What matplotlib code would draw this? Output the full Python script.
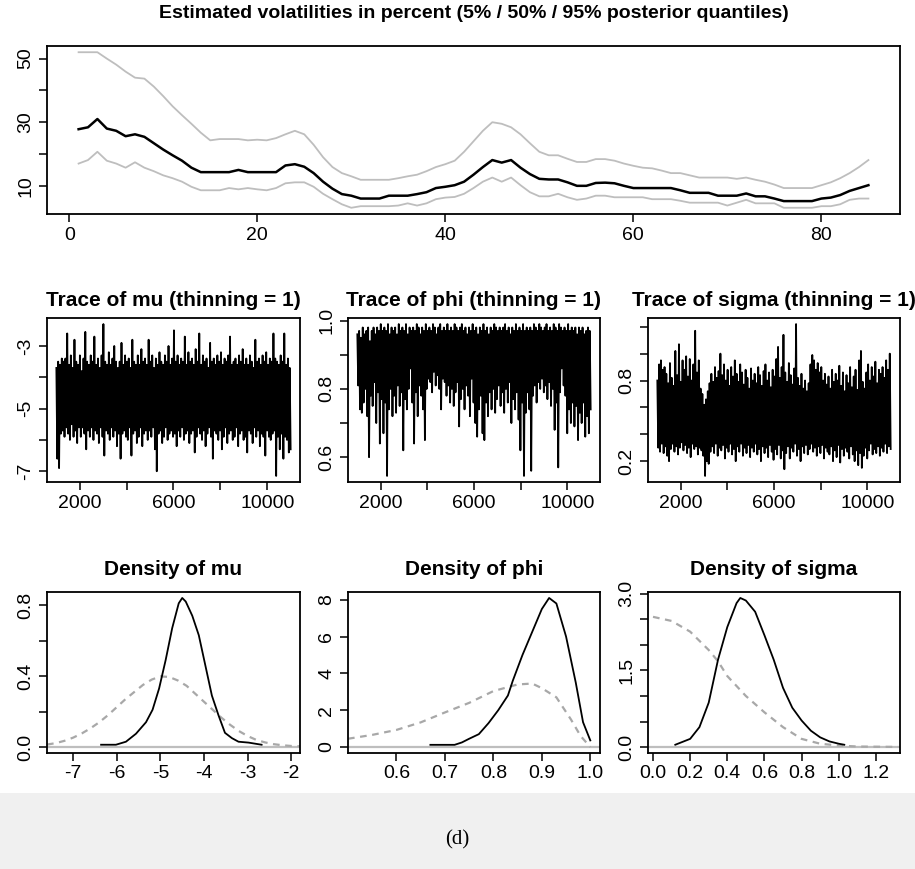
import numpy as np
import matplotlib
matplotlib.use('Agg')
import matplotlib.pyplot as plt
from matplotlib.patches import Rectangle

plt.rcParams['font.family'] = ['Liberation Sans Narrow', 'Liberation Sans', 'DejaVu Sans']

# --- volatility quantiles (percent), t = 1..85
vol_q05 = [17, 18.1, 20.7, 17.9, 17, 15.7, 17.4, 15.7, 14.6, 13.3,
           12.4, 11.3, 9.7, 8.6, 8.6, 8.6, 9.3, 8.9, 9.3, 8.9,
           8.6, 9.3, 10.8, 11.1, 11.1, 9.7, 7.5, 5.8, 4.2, 3.1,
           3.6, 3.6, 3.6, 3.6, 3.8, 4.5, 3.8, 4.5, 5.8, 6.3,
           6.5, 7.5, 9.3, 11.3, 12.6, 11.3, 12.6, 10.2, 8.0, 6.7,
           6.7, 7.5, 6.4, 5.6, 6.0, 6.9, 6.9, 6.4, 6.4, 6.4,
           6.4, 5.8, 5.8, 5.8, 5.3, 4.7, 4.7, 4.7, 4.7, 3.8,
           4.7, 5.6, 4.5, 4.5, 4.5, 3.1, 3.1, 3.1, 3.1, 3.6,
           3.6, 4.2, 5.6, 6.0, 6.0]
vol_q50 = [27.8, 28.4, 31.0, 28.0, 27.3, 25.6, 26.2, 25.4, 23.4, 21.4,
           19.6, 17.9, 15.7, 14.3, 14.3, 14.3, 14.3, 15.0, 14.3, 14.3,
           14.3, 14.3, 16.4, 16.8, 16.0, 14.0, 11.3, 9.1, 7.4, 6.9,
           6.0, 6.0, 6.0, 6.9, 6.9, 6.9, 7.4, 8.0, 9.3, 9.7,
           10.2, 11.3, 13.5, 15.9, 18.1, 17.3, 18.1, 15.7, 13.7, 12.2,
           12.0, 12.0, 11.1, 10.0, 10.0, 10.9, 11.0, 10.8, 10.0, 9.3,
           9.3, 9.3, 9.3, 9.3, 8.6, 7.8, 7.8, 7.8, 6.9, 6.9,
           6.9, 7.6, 6.7, 6.7, 6.0, 5.2, 5.2, 5.2, 5.2, 6.0,
           6.3, 7.1, 8.4, 9.3, 10.2]
vol_q95 = [52, 52, 52, 50, 48.1, 45.9, 44, 43.7, 41.2, 38.2,
           35, 32.2, 29.5, 26.7, 24.3, 24.7, 24.7, 24.7, 24.3, 24.5,
           24.3, 25, 26.2, 27.3, 26.2, 22.9, 19, 15.9, 14, 13,
           11.9, 11.9, 11.9, 11.9, 12.4, 13, 13.5, 14.6, 15.9, 16.8,
           17.9, 20.7, 24, 27.3, 30, 29.5, 28.4, 26.2, 23.4, 20.7,
           19.6, 19.6, 18.5, 17.5, 17.5, 18.4, 18.4, 17.9, 17, 16.3,
           15.7, 15.5, 14.8, 14, 14, 13.3, 12.6, 12.6, 12.6, 12.6,
           12.2, 12.6, 11.9, 11.3, 10.4, 9.3, 9.3, 9.3, 9.3, 10.2,
           11.1, 12.4, 14, 15.9, 18.1]

# --- MCMC traces (draws 1001..11000)
draw_first, draw_last = 1001, 11000
mu_trace = [
    -3.7, -6.6, -3.5, -6.9, -3.6, -5.8, -3.4, -5.7, -3.5, -5.9,
    -3.4, -5.6, -2.6, -5.8, -3.6, -6.0, -3.3, -5.5, -3.7, -5.9,
    -2.8, -5.7, -3.5, -6.1, -3.6, -5.6, -3.3, -5.9, -3.8, -5.6,
    -3.4, -5.8, -2.55, -6.3, -3.5, -5.7, -3.6, -5.9, -3.3, -5.6,
    -3.5, -6.0, -2.7, -5.7, -3.6, -5.8, -3.4, -6.1, -3.7, -5.6,
    -3.3, -5.9, -2.3, -6.5, -3.5, -5.7, -3.6, -5.8, -3.2, -6.0,
    -3.6, -5.6, -3.4, -5.9, -3.0, -5.7, -3.5, -6.2, -3.7, -5.8,
    -3.5, -6.6, -2.9, -5.8, -3.6, -5.7, -3.3, -5.9, -3.5, -6.0,
    -3.4, -5.6, -3.7, -6.5, -2.8, -5.8, -3.5, -5.7, -3.6, -6.1,
    -3.3, -5.9, -3.6, -5.6, -3.1, -6.2, -3.5, -5.8, -3.4, -5.7,
    -3.6, -6.0, -2.8, -5.7, -3.5, -5.9, -3.3, -5.6, -3.7, -6.3,
    -3.4, -7.0, -3.6, -5.8, -3.2, -5.7, -3.5, -6.1, -3.6, -5.9,
    -3.3, -5.6, -3.5, -6.0, -3.0, -5.8, -3.6, -5.7, -3.4, -5.9,
    -2.5, -5.8, -3.5, -6.2, -3.3, -5.7, -3.6, -5.9, -3.4, -5.6,
    -3.5, -6.0, -2.7, -5.8, -3.6, -5.7, -3.2, -6.1, -3.5, -5.8,
    -3.4, -5.7, -3.6, -6.4, -3.1, -5.9, -3.5, -5.6, -2.6, -5.8,
    -3.6, -6.0, -3.3, -5.7, -3.5, -6.2, -3.4, -5.8, -3.7, -5.6,
    -2.9, -5.9, -3.5, -6.6, -3.4, -5.7, -3.6, -5.8, -3.3, -6.0,
    -3.5, -5.7, -3.2, -6.3, -3.6, -5.9, -3.4, -5.6, -3.5, -6.1,
    -3.3, -5.8, -2.7, -5.7, -3.6, -6.0, -3.5, -5.9, -3.4, -5.6,
    -3.6, -6.2, -3.3, -5.8, -3.5, -5.7, -3.1, -6.0, -3.6, -5.9,
    -3.4, -6.4, -3.6, -5.7, -3.3, -5.8, -3.5, -6.1, -3.7, -5.6,
    -2.8, -5.9, -3.5, -5.7, -3.4, -6.2, -3.6, -5.8, -3.3, -5.9,
    -3.5, -6.5, -3.2, -5.7, -3.6, -5.9, -3.4, -6.0, -3.5, -5.8,
    -2.6, -5.7, -3.4, -7.15, -3.5, -5.9, -3.6, -6.3, -3.3, -5.8,
    -3.5, -6.6, -2.6, -5.9, -3.6, -6.0, -3.4, -6.4, -3.7, -6.3]
phi_trace = [
    0.96, 0.81, 0.97, 0.74, 0.95, 0.73, 0.98, 0.76, 0.96, 0.80,
    0.97, 0.72, 0.98, 0.60, 0.94, 0.78, 0.97, 0.75, 0.98, 0.82,
    0.96, 0.70, 0.98, 0.79, 0.97, 0.64, 0.99, 0.77, 0.97, 0.67,
    0.98, 0.76, 0.97, 0.545, 0.99, 0.74, 0.96, 0.80, 0.98, 0.72,
    0.97, 0.78, 0.98, 0.73, 0.96, 0.81, 0.99, 0.75, 0.97, 0.79,
    0.98, 0.62, 0.97, 0.77, 0.99, 0.74, 0.96, 0.80, 0.98, 0.86,
    0.97, 0.76, 0.98, 0.64, 0.97, 0.79, 0.99, 0.72, 0.98, 0.81,
    0.96, 0.78, 0.98, 0.74, 0.97, 0.65, 0.99, 0.80, 0.97, 0.83,
    0.98, 0.82, 0.97, 0.79, 0.99, 0.85, 0.98, 0.81, 0.96, 0.84,
    0.98, 0.80, 0.99, 0.74, 0.97, 0.83, 0.98, 0.82, 0.97, 0.78,
    0.99, 0.81, 0.97, 0.76, 0.98, 0.80, 0.97, 0.75, 0.99, 0.79,
    0.98, 0.82, 0.97, 0.69, 0.98, 0.77, 0.99, 0.80, 0.97, 0.74,
    0.98, 0.81, 0.96, 0.78, 0.98, 0.72, 0.97, 0.83, 0.99, 0.76,
    0.97, 0.70, 0.98, 0.66, 0.96, 0.74, 0.98, 0.78, 0.97, 0.67,
    0.99, 0.65, 0.97, 0.76, 0.98, 0.72, 0.96, 0.79, 0.98, 0.74,
    0.97, 0.80, 0.99, 0.73, 0.98, 0.77, 0.97, 0.81, 0.98, 0.75,
    0.97, 0.79, 0.98, 0.73, 0.99, 0.80, 0.97, 0.76, 0.98, 0.82,
    0.96, 0.70, 0.98, 0.77, 0.97, 0.74, 0.99, 0.79, 0.97, 0.71,
    0.98, 0.62, 0.97, 0.76, 0.99, 0.545, 0.97, 0.73, 0.98, 0.79,
    0.97, 0.74, 0.98, 0.56, 0.97, 0.78, 0.99, 0.81, 0.98, 0.76,
    0.97, 0.82, 0.99, 0.80, 0.98, 0.83, 0.97, 0.79, 0.98, 0.81,
    0.99, 0.77, 0.97, 0.82, 0.98, 0.75, 0.97, 0.80, 0.99, 0.68,
    0.98, 0.76, 0.97, 0.57, 0.99, 0.79, 0.98, 0.86, 0.97, 0.81,
    0.98, 0.78, 0.97, 0.67, 0.99, 0.74, 0.97, 0.70, 0.98, 0.76,
    0.97, 0.69, 0.98, 0.75, 0.96, 0.65, 0.98, 0.73, 0.97, 0.70,
    0.98, 0.76, 0.96, 0.66, 0.97, 0.72, 0.98, 0.67, 0.97, 0.74]
sigma_trace = [
    0.80, 0.30, 0.92, 0.27, 0.95, 0.33, 0.88, 0.26, 0.90, 0.31,
    0.85, 0.24, 0.78, 0.20, 0.93, 0.29, 0.82, 0.33, 0.76, 0.27,
    1.02, 0.31, 0.84, 0.25, 1.07, 0.30, 0.79, 0.34, 0.95, 0.28,
    0.88, 0.32, 0.98, 0.26, 0.83, 0.30, 0.96, 0.23, 0.80, 0.33,
    0.92, 0.29, 1.17, 0.31, 0.86, 0.25, 0.95, 0.30, 0.74, 0.28,
    0.70, 0.24, 0.62, 0.09, 0.66, 0.20, 0.72, 0.18, 0.78, 0.27,
    0.85, 0.31, 0.79, 0.26, 0.90, 0.33, 0.82, 0.24, 0.87, 0.30,
    1.00, 0.28, 0.84, 0.32, 0.92, 0.22, 0.80, 0.30, 0.88, 0.27,
    0.76, 0.33, 0.90, 0.25, 0.83, 0.29, 0.95, 0.20, 0.85, 0.31,
    0.79, 0.27, 0.92, 0.33, 0.86, 0.24, 0.77, 0.30, 0.88, 0.26,
    0.82, 0.32, 0.74, 0.23, 0.89, 0.30, 0.80, 0.27, 0.85, 0.33,
    0.78, 0.25, 0.90, 0.29, 0.84, 0.20, 0.76, 0.31, 0.87, 0.26,
    0.92, 0.30, 0.80, 0.23, 0.86, 0.32, 0.75, 0.27, 0.88, 0.21,
    0.83, 0.29, 0.96, 0.25, 1.05, 0.32, 0.82, 0.22, 0.90, 0.28,
    1.14, 0.14, 0.86, 0.26, 0.79, 0.31, 0.93, 0.22, 0.84, 0.30,
    0.77, 0.27, 0.89, 0.33, 1.22, 0.24, 0.82, 0.29, 0.76, 0.20,
    0.85, 0.31, 0.74, 0.26, 0.80, 0.32, 0.72, 0.25, 0.78, 0.29,
    0.92, 0.33, 0.99, 0.27, 0.95, 0.30, 0.88, 0.24, 0.93, 0.31,
    0.86, 0.26, 0.90, 0.32, 0.80, 0.22, 0.85, 0.30, 0.77, 0.27,
    0.83, 0.25, 0.74, 0.31, 0.88, 0.20, 0.79, 0.28, 0.85, 0.23,
    0.80, 0.32, 0.91, 0.19, 0.76, 0.29, 0.86, 0.24, 0.72, 0.30,
    0.84, 0.27, 0.78, 0.22, 0.90, 0.31, 0.75, 0.25, 0.83, 0.20,
    0.88, 0.28, 0.73, 0.17, 0.95, 0.26, 1.02, 0.15, 0.79, 0.24,
    0.74, 0.30, 0.86, 0.22, 0.92, 0.28, 0.80, 0.33, 0.90, 0.25,
    0.83, 0.29, 0.94, 0.26, 0.78, 0.31, 0.88, 0.24, 0.85, 0.30,
    0.90, 0.27, 0.82, 0.33, 0.95, 0.26, 0.88, 0.31, 1.00, 0.29]

# --- posterior (solid) and prior (dashed) densities
mu_post_x = [-6.36, -6.02, -5.79, -5.56, -5.33, -5.18, -5.03, -4.88, -4.73, -4.58, -4.50,
             -4.42, -4.27, -4.12, -3.97, -3.82, -3.67, -3.52, -3.36, -3.21, -2.98, -2.68]
mu_post_y = [0.013, 0.013, 0.03, 0.075, 0.14, 0.21, 0.33, 0.49, 0.67, 0.81, 0.84,
             0.82, 0.74, 0.63, 0.46, 0.29, 0.18, 0.08, 0.05, 0.03, 0.025, 0.013]
mu_prior_x = [-7.6, -7.4, -7.2, -7.0, -6.8, -6.6, -6.4, -6.2, -6.0, -5.8, -5.6, -5.4, -5.2, -5.0, -4.8,
              -4.6, -4.4, -4.2, -4.0, -3.8, -3.6, -3.4, -3.2, -3.0, -2.8, -2.6, -2.4, -2.2, -2.0, -1.8]
mu_prior_y = [0.014, 0.022, 0.035, 0.053, 0.077, 0.106, 0.140, 0.180, 0.225, 0.270, 0.310, 0.350, 0.380, 0.398, 0.395,
              0.375, 0.345, 0.300, 0.255, 0.210, 0.165, 0.125, 0.090, 0.062, 0.040, 0.026, 0.016, 0.010, 0.006, 0.004]

phi_post_x = [0.67, 0.72, 0.735, 0.75, 0.77, 0.79, 0.81, 0.83, 0.84, 0.86, 0.88,
              0.90, 0.915, 0.93, 0.95, 0.97, 0.985, 1.0]
phi_post_y = [0.12, 0.12, 0.25, 0.45, 0.7, 1.3, 2.0, 2.8, 3.6, 5.0, 6.25,
              7.5, 8.1, 7.8, 6.0, 3.5, 1.35, 0.36]
phi_prior_x = [0.50, 0.55, 0.60, 0.65, 0.70, 0.75, 0.80, 0.85, 0.88, 0.90, 0.93, 0.96, 0.98, 1.0]
phi_prior_y = [0.45, 0.66, 0.93, 1.34, 1.88, 2.4, 3.04, 3.4, 3.45, 3.2, 2.7, 1.5, 0.6, 0.0]

sigma_post_x = [0.12, 0.2, 0.25, 0.3, 0.35, 0.4, 0.45, 0.47, 0.5, 0.55, 0.6, 0.65, 0.7,
                0.75, 0.8, 0.85, 0.9, 0.95, 1.0, 1.03]
sigma_post_y = [0.045, 0.16, 0.39, 0.87, 1.71, 2.35, 2.82, 2.92, 2.87, 2.65, 2.19, 1.71, 1.16,
                0.77, 0.52, 0.32, 0.19, 0.11, 0.065, 0.045]
sigma_prior_x = [0.0, 0.1, 0.2, 0.3, 0.35, 0.4, 0.5, 0.6, 0.7, 0.8, 0.9, 1.0, 1.1, 1.32]
sigma_prior_y = [2.55, 2.47, 2.26, 1.9, 1.68, 1.39, 1.0, 0.68, 0.39, 0.16, 0.065, 0.03, 0.01, 0.002]

# ticks (R drops labels that would overlap)
vol_xticks = [0, 20, 40, 60, 80]
vol_yticks = [10, 20, 30, 40, 50]
vol_ylabels = ['10', '', '30', '', '50']
trace_xticks = [2000, 4000, 6000, 8000, 10000]
trace_xlabels = ['2000', '', '6000', '', '10000']

GRAY = '#bebebe'


def r_axes(ax):
    for s in ax.spines.values():
        s.set_linewidth(1.3)
    ax.tick_params(direction='out', length=6, width=1.1, labelsize=14, pad=3, colors='black')
    ax.tick_params(axis='y', labelrotation=90)
    for t in ax.get_yticklabels():
        t.set_verticalalignment('center')


def r_title(ax, text, pad, size=15):
    ax.set_title(text, fontsize=size, fontweight='bold', pad=pad)


fig = plt.figure(figsize=(9.15, 8.69), dpi=100)
fig.add_artist(Rectangle((0, 0), 1, 0.0875, transform=fig.transFigure,
                         facecolor='#f0f0f0', edgecolor='none', zorder=0))

W, H = 915.0, 869.0


def px_axes(left, top, right, bottom):
    return fig.add_axes([left / W, 1 - bottom / H, (right - left) / W, (bottom - top) / H])


# top: volatilities
ax = px_axes(47, 46, 900, 214)
t = np.arange(1, len(vol_q50) + 1)
ax.plot(t, vol_q05, color=GRAY, lw=1.3)
ax.plot(t, vol_q95, color=GRAY, lw=1.3)
ax.plot(t, vol_q50, color='black', lw=1.8)
ax.margins(x=0.04, y=0.04)
ax.set_xticks(vol_xticks)
ax.set_yticks(vol_yticks, vol_ylabels)
r_axes(ax)
r_title(ax, 'Estimated volatilities in percent (5% / 50% / 95% posterior quantiles)', 20, size=14)

# middle: traces
col_x = [(47, 300), (348, 600), (648, 900)]
traces = [
    ('Trace of mu (thinning = 1)', mu_trace, [-7, -6, -5, -4, -3], ['-7', '', '-5', '', '-3']),
    ('Trace of phi (thinning = 1)', phi_trace, [0.6, 0.7, 0.8, 0.9, 1.0], ['0.6', '', '0.8', '', '1.0']),
    ('Trace of sigma (thinning = 1)', sigma_trace, [0.2, 0.4, 0.6, 0.8, 1.0, 1.2], ['0.2', '', '', '0.8', '', '']),
]
for (l, r), (title, tr, yt, yl) in zip(col_x, traces):
    ax = px_axes(l, 318, r, 482)
    it = np.linspace(draw_first, draw_last, len(tr))
    ax.plot(it, tr, color='black', lw=1.3)
    ax.margins(x=0.04, y=0.04)
    ax.set_xticks(trace_xticks, trace_xlabels)
    ax.set_yticks(yt, yl)
    r_axes(ax)
    r_title(ax, title, 9)

# bottom: densities
dens = [
    ('Density of mu', mu_post_x, mu_post_y, mu_prior_x, mu_prior_y, (-7.6, -1.8),
     [-7, -6, -5, -4, -3, -2], ['-7', '-6', '-5', '-4', '-3', '-2'],
     [0.0, 0.2, 0.4, 0.6, 0.8], ['0.0', '', '0.4', '', '0.8']),
    ('Density of phi', phi_post_x, phi_post_y, phi_prior_x, phi_prior_y, (0.50, 1.02),
     [0.6, 0.7, 0.8, 0.9, 1.0], ['0.6', '0.7', '0.8', '0.9', '1.0'],
     [0, 2, 4, 6, 8], ['0', '2', '4', '6', '8']),
    ('Density of sigma', sigma_post_x, sigma_post_y, sigma_prior_x, sigma_prior_y, (-0.027, 1.33),
     [0.0, 0.2, 0.4, 0.6, 0.8, 1.0, 1.2], ['0.0', '0.2', '0.4', '0.6', '0.8', '1.0', '1.2'],
     [0.0, 0.5, 1.0, 1.5, 2.0, 2.5, 3.0], ['0.0', '', '', '1.5', '', '', '3.0']),
]
for (l, r), (title, px, py, qx, qy, xl, xt, xtl, yt, ytl) in zip(col_x, dens):
    ax = px_axes(l, 592, r, 753)
    ax.axhline(0, color=GRAY, lw=1.6, zorder=1)
    ax.plot(qx, qy, color='#a8a8a8', lw=1.6, ls=(0, (3, 2.5)), zorder=2)
    ax.plot(px, py, color='black', lw=1.3, zorder=3)
    ax.margins(y=0.04)
    ax.set_xlim(*xl)
    ax.set_xticks(xt, xtl)
    ax.set_yticks(yt, ytl)
    r_axes(ax)
    r_title(ax, title, 12)

fig.text(0.5, 1 - 840 / H, '(d)', ha='center', va='center', fontsize=15,
         family=['Liberation Serif', 'DejaVu Serif'])

fig.savefig('out.png', dpi=100)
